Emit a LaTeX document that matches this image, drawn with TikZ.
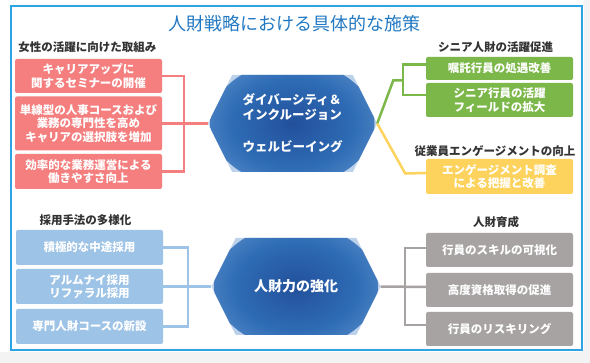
\documentclass[tikz,border=0pt]{standalone}
\usepackage{fontspec}
\setmainfont{Noto Sans CJK JP}
\usetikzlibrary{shapes.symbols}

\definecolor{framecol}{HTML}{2EA3E6}
\definecolor{titlecol}{HTML}{2279C3}
\definecolor{headcol}{HTML}{333333}
\definecolor{pinkcol}{HTML}{F57F7F}
\definecolor{greencol}{HTML}{7CB74A}
\definecolor{yellowcol}{HTML}{FDD35D}
\definecolor{bluecol}{HTML}{9DC3E6}
\definecolor{graycol}{HTML}{A7A3A3}
\definecolor{pagegray}{HTML}{F3F3F3}
\definecolor{hexdark}{HTML}{23509B}
\definecolor{hexmid}{HTML}{2E6CB5}
\definecolor{hexsoft}{HTML}{6595CE}
\definecolor{hexlight}{HTML}{BCD2EB}
\pgfdeclareradialshading{hexglow}{\pgfpoint{0bp}{0bp}}{color(0bp)=(hexdark); color(18bp)=(hexmid); color(34bp)=(hexsoft); color(48bp)=(hexlight); color(50bp)=(hexlight)}

\begin{document}
\begin{tikzpicture}[
    x=1pt, y=-1pt,
    box/.style={rounded corners=2pt, minimum width=147pt, inner sep=1pt, align=center, text=white, font=\bfseries\fontsize{11.5}{13.5}\selectfont},
    pinkbox/.style={box, fill=pinkcol},
    greenbox/.style={box, fill=greencol},
    yellowbox/.style={box, fill=yellowcol},
    bluebox/.style={box, fill=bluecol},
    graybox/.style={box, fill=graycol},
    hex/.style={signal, signal to=west and east, signal pointer angle=127, minimum width=169pt, minimum height=97pt, inner sep=0pt, fill=hexlight, text=white,
      path picture={\shade[shading=hexglow] (path picture bounding box.center) ellipse [x radius=82pt, y radius=62pt];}},
    head/.style={text=headcol, font=\bfseries\fontsize{11.5}{13}\selectfont},
    link/.style={line width=2.5pt},
    pinkline/.style={link, draw=pinkcol},
    greenline/.style={link, draw=greencol},
    yellowline/.style={link, draw=yellowcol},
    blueline/.style={link, draw=bluecol},
    grayline/.style={link, draw=graycol}
  ]

  \useasboundingbox (0,0) rectangle (590,363);
  \fill[pagegray] (0,0) rectangle (590,363);
  \fill[white] (0,0) rectangle (584,352);
  \draw[framecol, line width=2.5pt] (11,6) rectangle (582,350);

  \node[text=titlecol, font=\fontsize{18}{20}\selectfont] (title) at (294.5,24) {人財戦略における具体的な施策};

  \node[hex, font=\bfseries\fontsize{12.5}{15}\selectfont, align=left] (dei) at (292.5,123.5) {ダイバーシティ＆\\インクルージョン\\[17pt]ウェルビーイング};
  \node[hex, font=\bfseries\fontsize{14}{16}\selectfont] (pow) at (296,286.5) {人財力の強化};

  \node[head] (whead) at (87.5,47) {女性の活躍に向けた取組み};
  \node[pinkbox, minimum height=34pt] (w1) at (88.5,76) {キャリアアップに\\関するセミナーの開催};
  \node[pinkbox, minimum height=54pt] (w2) at (88.5,123.5) {単線型の人事コースおよび\\業務の専門性を高め\\キャリアの選択肢を増加};
  \node[pinkbox, minimum height=35pt] (w3) at (88.5,171.5) {効率的な業務運営による\\働きやすさ向上};

  \node[head] (shead) at (495.5,47) {シニア人財の活躍促進};
  \node[greenbox, minimum height=23pt] (s1) at (499.5,68.5) {嘱託行員の処遇改善};
  \node[greenbox, minimum height=34pt] (s2) at (499.5,100) {シニア行員の活躍\\フィールドの拡大};

  \node[head] (ehead) at (495,151) {従業員エンゲージメントの向上};
  \node[yellowbox, minimum height=35pt] (e1) at (499.5,176.5) {エンゲージメント調査\\による把握と改善};

  \node[head] (rhead) at (85.5,220) {採用手法の多様化};
  \node[bluebox, minimum height=35pt] (r1) at (89.5,247.5) {積極的な中途採用};
  \node[bluebox, minimum height=35pt] (r2) at (89.5,286.5) {アルムナイ採用\\リファラル採用};
  \node[bluebox, minimum height=35pt] (r3) at (89.5,326.5) {専門人財コースの新設};

  \node[head] (dhead) at (496,222) {人財育成};
  \node[graybox, minimum height=34pt] (d1) at (499.5,250) {行員のスキルの可視化};
  \node[graybox, minimum height=34pt] (d2) at (499.5,290) {高度資格取得の促進};
  \node[graybox, minimum height=34pt] (d3) at (499.5,329) {行員のリスキリング};

  \draw[pinkline] (w1.east) -- ++(22,0) |- (w3.east);
  \draw[pinkline] (w2.east) -- (dei.west);

  \draw[greenline] (dei.east) -- ++(16,-43) -- ++(10,0);
  \draw[greenline] ([yshift=4pt]s1.west) -- ++(-23,0) |- ([yshift=5pt]s2.west);
  \draw[yellowline] (dei.east) -- ++(28,50) -- ([yshift=3.5pt]e1.west);

  \draw[blueline] (r1.east) -- ++(25,0) |- (r3.east);
  \draw[blueline] (r2.east) -- (pow.west);

  \draw[grayline] ([yshift=2pt]d1.west) -- ++(-21,0) |- ([yshift=4pt]d3.west);
  \draw[grayline] (pow.east) -- ([yshift=3pt]d2.west);

\end{tikzpicture}
\end{document}
